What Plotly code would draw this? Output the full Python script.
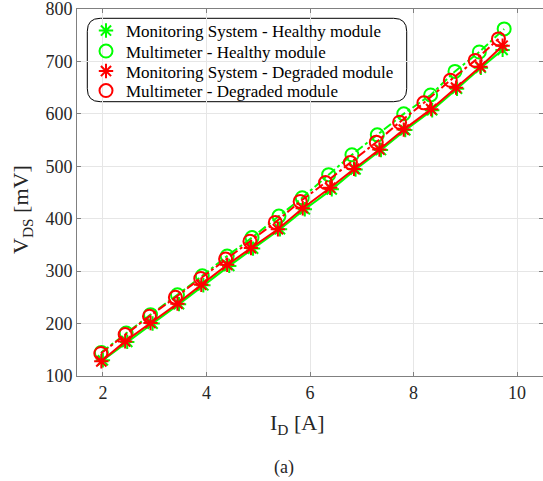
import plotly.graph_objects as go

# ---- data ----
ms_healthy_x = [2.00, 2.47, 2.96, 3.47, 3.94, 4.44, 4.90, 5.42, 5.90, 6.42, 6.88, 7.37, 7.84, 8.36, 8.84, 9.30, 9.72]
ms_healthy_y = [130, 165, 200, 237, 273, 310, 343, 380, 418, 456, 494, 531, 569, 607, 648, 688, 722]

mm_healthy_x = [1.97, 2.45, 2.92, 3.44, 3.92, 4.40, 4.88, 5.40, 5.85, 6.36, 6.81, 7.30, 7.81, 8.33, 8.80, 9.27, 9.75]
mm_healthy_y = [145, 182, 217, 255, 291, 329, 364, 405, 440, 484, 522, 560, 600, 636, 681, 718, 762]

ms_degraded_x = [1.97, 2.43, 2.92, 3.44, 3.90, 4.40, 4.86, 5.38, 5.86, 6.39, 6.85, 7.34, 7.81, 8.34, 8.82, 9.29, 9.72]
ms_degraded_y = [128, 166, 201, 238, 274, 312, 344, 380, 420, 459, 495, 532, 570, 609, 650, 690, 730]

mm_degraded_x = [1.96, 2.43, 2.90, 3.40, 3.89, 4.37, 4.84, 5.33, 5.81, 6.30, 6.78, 7.28, 7.73, 8.20, 8.71, 9.19, 9.64]
mm_degraded_y = [143, 179, 214, 250, 286, 323, 357, 393, 433, 469, 507, 546, 584, 621, 664, 702, 743]

series_names = [
    "Monitoring System - Healthy module",
    "Multimeter - Healthy module",
    "Monitoring System - Degraded module",
    "Multimeter - Degraded module",
]
x_ticks = [2, 4, 6, 8, 10]
y_ticks = [100, 200, 300, 400, 500, 600, 700, 800]

GREEN = "#00ff00"
RED = "#ff0000"
FONT = "Liberation Serif, Times New Roman, serif"

W, H = 543, 481
L, R, T, B = 77, 0, 9, 105
PW, PH = W - L - R, H - T - B


def px(xp):
    return (xp - L) / PW


def py(yp):
    return (H - B - yp) / PH


fig = go.Figure()

specs = [
    (ms_healthy_x, ms_healthy_y, GREEN, "solid", "asterisk-open", 12),
    (mm_healthy_x, mm_healthy_y, GREEN, "dashdot", "circle-open", 13),
    (ms_degraded_x, ms_degraded_y, RED, "solid", "asterisk-open", 12),
    (mm_degraded_x, mm_degraded_y, RED, "dashdot", "circle-open", 13),
]
legend_ids = ["legend", "legend2", "legend3", "legend4"]
legend_rows = [31, 51.5, 71.5, 91]

for (xs, ys, col, dash, sym, size), name in zip(specs, series_names):
    fig.add_trace(go.Scatter(
        x=xs, y=ys, mode="lines+markers", showlegend=False,
        line=dict(color=col, width=2, dash=dash),
        marker=dict(symbol=sym, size=size, color=col, line=dict(color=col, width=2)),
        cliponaxis=False,
    ))
for (xs, ys, col, dash, sym, size), name, lid in zip(specs, series_names, legend_ids):
    fig.add_trace(go.Scatter(
        x=[None], y=[None], mode="markers", name=name, legend=lid,
        marker=dict(symbol=sym, size=size, color=col, line=dict(color=col, width=2)),
    ))

# rounded legend box
x0, x1 = px(87.3), px(406.7)
y0, y1 = py(101.7), py(18.3)
rx, ry = 13 / PW, 13 / PH
path = (f"M {x0+rx},{y1} L {x1-rx},{y1} Q {x1},{y1} {x1},{y1-ry} "
        f"L {x1},{y0+ry} Q {x1},{y0} {x1-rx},{y0} L {x0+rx},{y0} "
        f"Q {x0},{y0} {x0},{y0+ry} L {x0},{y1-ry} Q {x0},{y1} {x0+rx},{y1} Z")
fig.add_shape(type="path", path=path, xref="paper", yref="paper",
              line=dict(color="black", width=1), fillcolor="white", layer="below")

fig.add_annotation(x=px(297), y=py(408), xref="paper", yref="paper",
                   xanchor="center", yanchor="top",
                   text="I<sub>D</sub> [A]", showarrow=False,
                   font=dict(family=FONT, size=22, color="#262626"))
fig.add_annotation(x=px(6), y=py(210), xref="paper", yref="paper",
                   xanchor="left", yanchor="middle",
                   text="V<sub>DS</sub> [mV]", showarrow=False, textangle=-90,
                   font=dict(family=FONT, size=22, color="#262626"))
fig.add_annotation(x=px(284), y=py(467), xref="paper", yref="paper",
                   xanchor="center", yanchor="middle",
                   text="(a)", showarrow=False,
                   font=dict(family=FONT, size=18, color="#262626"))

axis_common = dict(
    showgrid=True, gridcolor="#e6e6e6", gridwidth=1,
    showline=True, linecolor="#808080", linewidth=1, mirror="ticks",
    ticks="inside", ticklen=4, tickcolor="#808080",
    tickfont=dict(family=FONT, size=18, color="#262626"),
    ticklabeloverflow="allow",
    zeroline=False,
)

legend_common = dict(xanchor="left", yanchor="middle",
                     bgcolor="rgba(0,0,0,0)", borderwidth=0,
                     font=dict(family=FONT, size=17, color="black"))

fig.update_layout(
    width=W, height=H,
    margin=dict(l=L, r=R, t=T, b=B),
    paper_bgcolor="white", plot_bgcolor="white",
    xaxis=dict(range=[1.5, 10.5], tickvals=x_ticks, **axis_common),
    yaxis=dict(range=[100, 800], tickvals=y_ticks, **axis_common),
    showlegend=True,
)
for lid, row in zip(legend_ids, legend_rows):
    fig.update_layout({lid: dict(x=px(86), y=py(row), **legend_common)})

fig.write_html("out.html")
